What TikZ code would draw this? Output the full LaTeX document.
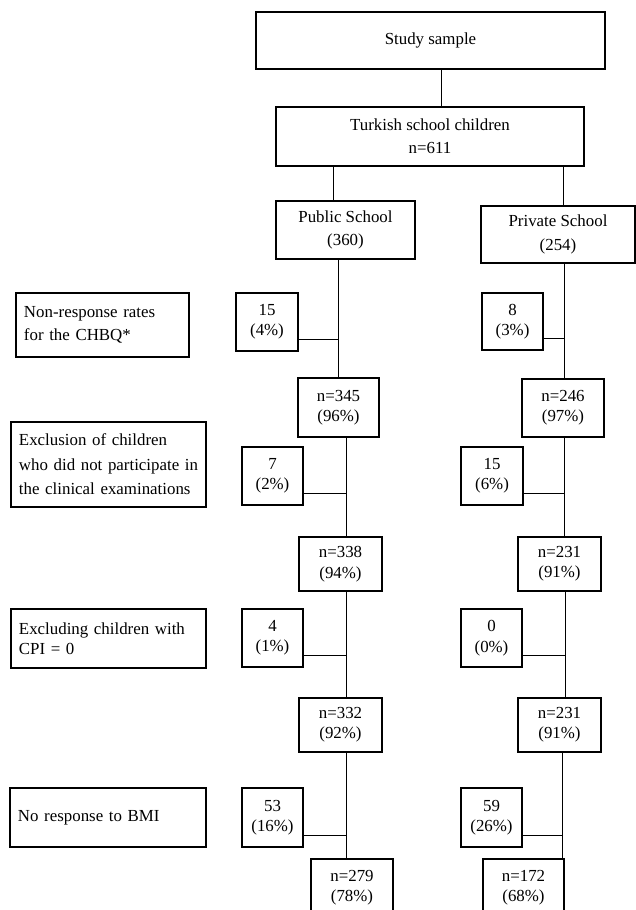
\documentclass[tikz,border=0pt]{standalone}
\usepackage{fontspec}
\setmainfont{Liberation Serif}
\usetikzlibrary{calc}

\tikzset{
  box/.style 2 args={draw, line width=0.9pt, minimum width=#1*0.025cm, minimum height=#2*0.025cm,
    inner sep=0pt, align=center, font=\fontsize{12}{14.5}\selectfont},
  note/.style 2 args={draw, line width=0.9pt, text width=#1, minimum height=#2*0.025cm,
    inner xsep=0.2cm, inner ysep=0pt, align=left, font=\fontsize{12}{16.5}\selectfont},
  link/.style={line width=0.6pt},
}

\begin{document}
\begin{tikzpicture}[x=0.025cm, y=-0.025cm]
\useasboundingbox (0,0) rectangle (636,910);
\clip (0,0) rectangle (636,910);

\node[box={349}{57}] (study) at (430.5,40.5) {Study sample};
\node[box={308}{59}, font=\fontsize{12}{16.5}\selectfont] (turk) at (430,136.5) {Turkish school children\\n=611};
\node[box={139}{58}, font=\fontsize{12}{16.5}\selectfont] (pub) at (345.5,230) {Public School\\(360)};
\node[box={154}{57}, font=\fontsize{12}{16.5}\selectfont] (priv) at (558,234.5) {Private School\\(254)};

% reasons on the left
\node[note={3.925cm}{64}] (why1) at (102.5,325) {Non-response rates\\for the CHBQ*};
\node[note={4.475cm}{85}, font=\fontsize{12}{17.5}\selectfont] (why2) at (108.5,464.5) {Exclusion of children\\who did not participate in\\the clinical examinations};
\node[note={4.475cm}{59}, font=\fontsize{12}{14}\selectfont] (why3) at (108.5,638.5) {Excluding children with\\CPI = 0};
\node[note={4.5cm}{59}] (why4) at (108,817.5) {No response to BMI};

% children left out
\foreach \name/\x/\y/\w/\h/\n/\p in {r15/267/322/62/58/15/4, r8/512.5/321.5/61/57/8/3,
    r7/272.5/476/61/58/7/2, r15b/492/476/62/58/15/6,
    r4/272.5/638/61/58/4/1, r0/491.5/638/61/58/0/0,
    r53/272.5/817.5/61/59/53/16, r59/491.5/817.5/61/59/59/26}
  \node[box={\w}{\h}] (\name) at (\x,\y) {\n\\(\p\%)};

% children kept
\foreach \name/\x/\y/\w/\h/\n/\p in {n345/338.5/407.5/81/59/345/96, n246/563/408/82/58/246/97,
    n338/340.5/564/83/54/338/94, n231a/559.5/564/83/54/231/91,
    n332/340.5/725/83/54/332/92, n231b/559.5/725/83/54/231/91,
    n279/352/888/82/58/279/78, n172/523.5/888/81/58/172/68}
  \node[box={\w}{\h}] (\name) at (\x,\y) {n=\n\\(\p\%)};

\coordinate (t0) at (441,0);
\coordinate (tl) at (333,0);
\coordinate (tr) at (563,0);
\draw[link] (study.south -| t0) -- (turk.north -| t0);
\draw[link] (turk.south -| tl) -- (pub.north -| tl);
\draw[link] (turk.south -| tr) -- (priv.north -| tr);

\foreach \a/\b/\x/\r in {pub/n345/338/r15, priv/n246/564/r8, n345/n338/346/r7, n246/n231a/564/r15b,
    n338/n332/346/r4, n231a/n231b/565/r0, n332/n279/346/r53, n231b/n172/562/r59}{
  \coordinate (t) at (\x,0);
  \coordinate (j) at ([yshift=0.3cm]\r.south east);
  \draw[link] (\a.south -| t) -- (\b.north -| t);
  \draw[link] (j) -- (j -| t);
}
\end{tikzpicture}
\end{document}
